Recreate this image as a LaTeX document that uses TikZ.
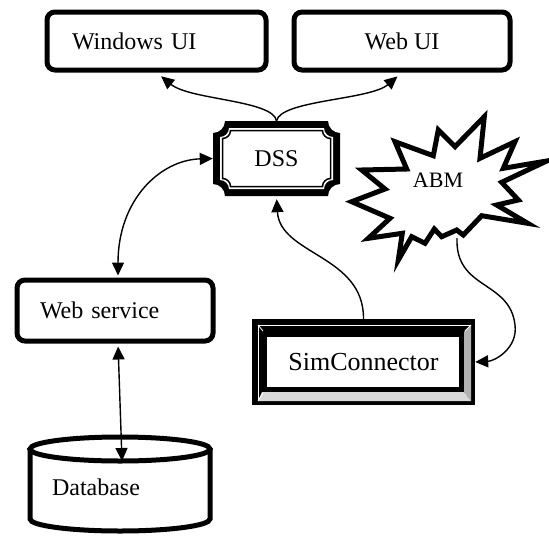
\documentclass[tikz,border=0pt]{standalone}
\usepackage{fontspec}
\setmainfont{Liberation Serif}
\usetikzlibrary{arrows.meta}
% concave-corner plaque path: x1 y1 x2 y2 r (y grows downward)
\newcommand\plaquepath[5]{({#1+#5},#2) -- ({#3-#5},#2)
 .. controls ({#3-#5},{#2+0.552*#5}) and ({#3-0.552*#5},{#2+#5}) .. (#3,{#2+#5})
 -- (#3,{#4-#5})
 .. controls ({#3-0.552*#5},{#4-#5}) and ({#3-#5},{#4-0.552*#5}) .. ({#3-#5},#4)
 -- ({#1+#5},#4)
 .. controls ({#1+#5},{#4-0.552*#5}) and ({#1+0.552*#5},{#4-#5}) .. (#1,{#4-#5})
 -- (#1,{#2+#5})
 .. controls ({#1+0.552*#5},{#2+#5}) and ({#1+#5},{#2+0.552*#5}) .. ({#1+#5},#2) -- cycle}
\begin{document}
\begin{tikzpicture}[x=1pt,y=-1pt,
  font=\fontsize{24}{28}\selectfont,
  ubox/.style={draw, line width=5pt, rounded corners=8pt, fill=white, inner ysep=0pt},
  txt/.style={inner sep=0pt},
  conn/.style={line width=1.4pt, -{Triangle[length=13pt,width=12pt]}},
  conn2/.style={line width=1.4pt, {Triangle[length=13pt,width=12pt]}-{Triangle[length=13pt,width=12pt]}},
  heavy/.style={line width=5pt}]
\useasboundingbox (0,0) rectangle (549,536);

% top boxes
\node[ubox, minimum width=219pt, minimum height=58pt, inner xsep=25pt, text width=169pt, align=left]
  (wui) at (156.5,41) {Windows UI};
\node[ubox, minimum width=216pt, minimum height=58pt, align=center]
  (webui) at (402,41) {Web UI};

% DSS plaque
\fill \plaquepath{213}{121}{340}{196}{12};
\fill[white] \plaquepath{220}{128}{333}{189}{9};
\draw[line width=1.5pt] \plaquepath{222.5}{130.5}{330.5}{186.5}{8};
\node[txt, minimum width=127pt, minimum height=75pt] (dss) at (276.5,158.5) {DSS};

% ABM explosion
\draw[heavy, fill=white, line join=miter]
  (484.3,116.7) -- (480,158.3) -- (515,141.7) -- (503.3,168.3) -- (546.7,161)
  -- (501.7,182.3) -- (518.3,200) -- (496.7,205) -- (527.7,223.3) -- (481.7,215.7)
  -- (463.3,235) -- (456.7,230) -- (441.7,236.7) -- (434.3,229) -- (425,243.3)
  -- (411.7,236.7) -- (398.3,260) -- (402.3,233.3) -- (368.3,238.3) -- (390,218.3)
  -- (351.7,201.7) -- (385,189) -- (361.7,170) -- (406.7,169) -- (395,141.7)
  -- (433.3,155.7) -- (438.3,130) -- (455,146.7) -- cycle;
\node[txt, font=\fontsize{22}{26}\selectfont] (abm) at (438,180) {ABM};
\coordinate (abmb) at (457,238);

% Web service
\node[ubox, minimum width=196pt, minimum height=61pt, inner xsep=23pt, text width=150pt, align=left]
  (ws) at (115,310.5) {Web service};

% SimConnector bevelled frame
\fill (252,319) rectangle (475,405);
\fill[gray!60] (464,332) -- (471,325) -- (471,401) -- (464,392) -- cycle;
\fill[gray!30] (262,392) -- (464,392) -- (471,401) -- (258,401) -- cycle;
\draw[white, line width=0.8pt] (258,401) -- (258,325) -- (471,325);
\draw[white, line width=0.8pt] (258,325) -- (263,331) (258,401) -- (263,393) (471,325) -- (465,331);
\draw[heavy, fill=white] (264.5,334.5) rectangle (461.5,389.5);
\node[txt, font=\fontsize{26}{30}\selectfont, minimum width=223pt, minimum height=86pt]
  (sim) at (363.5,362) {SimConnector};

% Database cylinder
\draw[heavy, fill=white] (30,449) -- (30,519)
  .. controls (30,525.6) and (70.3,531) .. (120,531)
  .. controls (169.7,531) and (210,525.6) .. (210,519) -- (210,449);
\draw[heavy, fill=white] (120,449) ellipse [x radius=90, y radius=12];
\node[txt] (db) at (96,487) {Database};
\coordinate (dbtop) at (122,461);

% connectors
\draw[conn, shorten >=6pt] (dss.north) .. controls (273,100) and (190,100) .. (wui.south);
\draw[conn, shorten >=6pt] (dss.north) .. controls (281,100) and (370,100) .. (webui.south);
\draw[conn2, shorten >=2pt] (dss.west) .. controls (160,160) and (118,200) .. ([xshift=3pt]ws.north);
\draw[conn2, shorten <=3pt] ([xshift=3pt]ws.south) -- (dbtop);
\draw[conn, shorten >=3pt] (sim.north) .. controls (364,255) and (280,255) .. (dss.south);
\draw[conn] (abmb) .. controls (455,290) and (510,280) .. (515,325)
  .. controls (518,348) and (495,361) .. (sim.east);
\end{tikzpicture}
\end{document}
